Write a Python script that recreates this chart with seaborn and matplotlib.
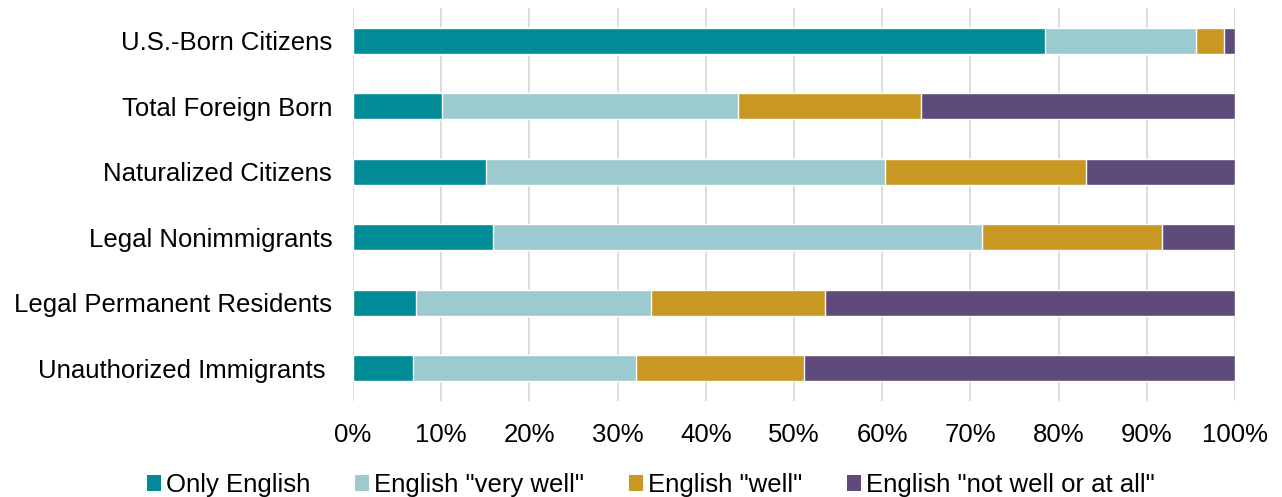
import matplotlib
matplotlib.use("Agg")
import matplotlib.pyplot as plt
from matplotlib.patches import Patch
from matplotlib.ticker import PercentFormatter
import numpy as np
import pandas as pd
import seaborn as sns

# categories (top to bottom) and the share of each English-ability group, in %
groups = ["U.S.-Born Citizens", "Total Foreign Born", "Naturalized Citizens",
          "Legal Nonimmigrants", "Legal Permanent Residents", "Unauthorized Immigrants "]
only_english = [78.5, 10.1, 15.1, 15.9, 7.1, 6.8]
very_well = [17.1, 33.6, 45.2, 55.4, 26.7, 25.3]
well = [3.1, 20.7, 22.8, 20.4, 19.7, 19.0]
not_well = [1.3, 35.6, 16.9, 8.3, 46.5, 48.9]

series_names = ["Only English", 'English "very well"', 'English "well"', 'English "not well or at all"']
colors = ["#008B96", "#9BCBCF", "#C99822", "#5E4A7B"]

sns.set_style("white")
plt.rcParams["font.family"] = ["Liberation Sans", "DejaVu Sans"]
plt.rcParams["text.color"] = "black"

df = pd.DataFrame({"group": groups, series_names[0]: only_english, series_names[1]: very_well,
                   series_names[2]: well, series_names[3]: not_well})
cum = df[series_names].cumsum(axis=1)

fig = plt.figure(figsize=(12.82, 4.97), dpi=100)
ax = fig.add_axes([353 / 1282, 96 / 497, 882 / 1282, 393 / 497])

# stacked bars: draw the running totals from the widest down
for name, col in reversed(list(zip(series_names, colors))):
    sns.barplot(x=cum[name], y=df["group"], orient="h", color=col, width=0.4,
                saturation=1, ax=ax, zorder=3)

ax.set_xlim(0, 100)
ax.set_ylim(5.5, -0.5)
ax.set_xticks(np.arange(0, 101, 10))
ax.xaxis.set_major_formatter(PercentFormatter(decimals=0))
ax.grid(axis="x", color="#D9D9D9", linewidth=1.3, zorder=0)
ax.set_axisbelow(True)
for s in ax.spines.values():
    s.set_visible(False)
ax.set_xlabel("")
ax.set_ylabel("")
ax.tick_params(axis="x", length=0, pad=16, labelsize=18.5, colors="black")
ax.tick_params(axis="y", length=0, pad=15, labelsize=18.5, colors="black")

handles = [Patch(facecolor=c, edgecolor="none") for c in colors]
leg = fig.legend(handles, series_names, loc="center", ncol=4, frameon=False, fontsize=18.5,
                 handlelength=0.55, handleheight=0.55, handletextpad=0.2, columnspacing=1.73,
                 bbox_to_anchor=(651 / 1282, 12 / 497), bbox_transform=fig.transFigure)

fig.savefig("out.png", dpi=100)
